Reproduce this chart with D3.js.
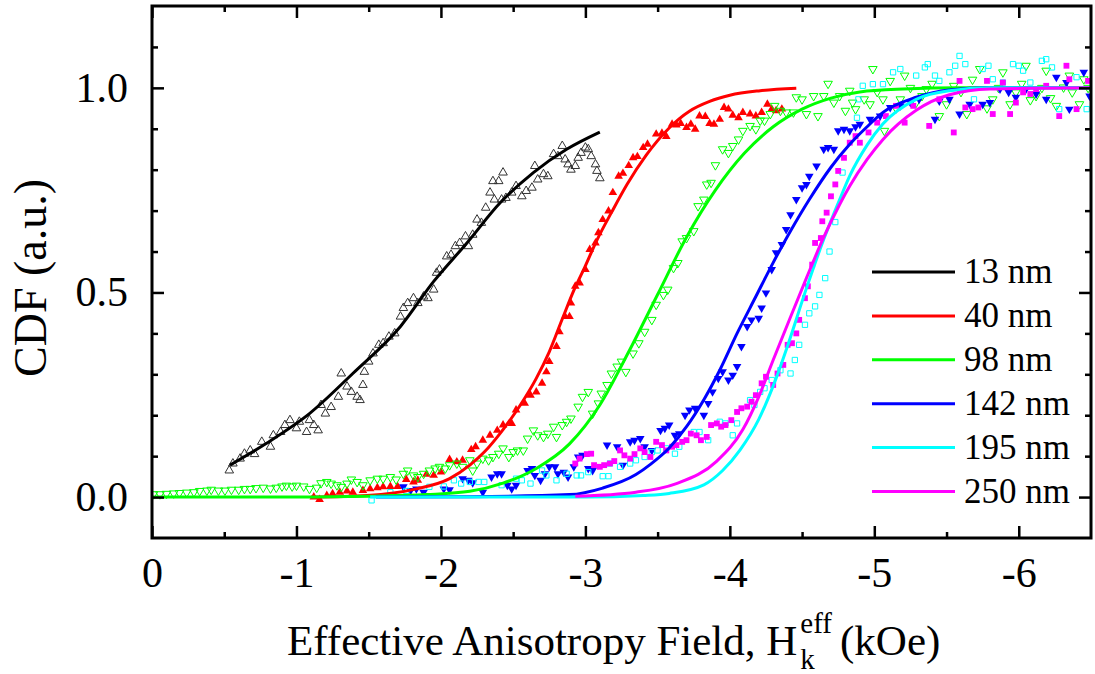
<!DOCTYPE html>
<html><head><meta charset="utf-8">
<script src="https://cdn.jsdelivr.net/npm/d3@7"></script>
<style>
body{margin:0;background:#fff;}
svg{display:block;}
text{font-family:"Liberation Serif","Times New Roman",serif;fill:#000;}
</style>
</head><body>
<svg id="c" width="1095" height="674"></svg>
<script>
// ---------- axis ticks ----------
const xTicks=[0,-1,-2,-3,-4,-5,-6];
const xMinorTicks=[-0.5,-1.5,-2.5,-3.5,-4.5,-5.5];
const yTicks=[0,0.5,1.0];
const yMinorTicks=[0.1,0.2,0.3,0.4,0.6,0.7,0.8,0.9,1.1];

// ---------- series ----------
const seriesNames=["13 nm","40 nm","98 nm","142 nm","195 nm","250 nm"];
const seriesColors=["#000000","#ff0000","#00ff00","#0000ff","#00ffff","#ff00ff"];

// measured CDF points [H (kOe), CDF]
const data13=[[-0.535,0.065],[-0.56,0.082],[-0.61,0.094],[-0.64,0.106],[-0.68,0.114],[-0.71,0.105],[-0.76,0.135],[-0.82,0.123],[-0.84,0.151],[-0.89,0.159],[-0.92,0.176],[-0.955,0.188],[-1.0,0.168],[-1.02,0.184],[-1.07,0.159],[-1.09,0.188],[-1.12,0.176],[-1.15,0.163],[-1.17,0.225],[-1.20,0.204],[-1.24,0.22],[-1.29,0.245],[-1.31,0.302],[-1.35,0.27],[-1.38,0.257],[-1.42,0.245],[-1.44,0.237],[-1.46,0.274],[-1.47,0.306],[-1.50,0.331],[-1.53,0.351],[-1.57,0.372],[-1.60,0.376],[-1.64,0.392],[-1.68,0.40],[-1.72,0.441],[-1.74,0.462],[-1.77,0.474],[-1.81,0.486],[-1.84,0.474],[-1.88,0.49],[-1.91,0.486],[-1.95,0.507],[-1.97,0.548],[-1.99,0.556],[-2.04,0.588],[-2.07,0.592],[-2.10,0.613],[-2.13,0.621],[-2.17,0.637],[-2.19,0.613],[-2.22,0.641],[-2.25,0.678],[-2.28,0.67],[-2.31,0.707],[-2.34,0.744],[-2.36,0.772],[-2.37,0.727],[-2.40,0.772],[-2.42,0.727],[-2.43,0.793],[-2.45,0.731],[-2.49,0.744],[-2.52,0.76],[-2.56,0.735],[-2.59,0.748],[-2.63,0.756],[-2.65,0.809],[-2.67,0.776],[-2.71,0.789],[-2.74,0.784],[-2.78,0.838],[-2.81,0.833],[-2.84,0.858],[-2.86,0.825],[-2.88,0.813],[-2.90,0.80],[-2.93,0.809],[-2.95,0.829],[-2.97,0.841],[-3.00,0.854],[-3.02,0.85],[-3.04,0.833],[-3.07,0.813],[-3.08,0.797],[-3.10,0.779]];

const data40=[[-1.12,0.0],[-1.16,-0.006],[-1.21,0.004],[-1.25,0.008],[-1.30,0.012],[-1.35,0.015],[-1.39,0.012],[-1.46,0.016],[-1.51,0.02],[-1.56,0.023],[-1.60,0.025],[-1.65,0.026],[-1.70,0.026],[-1.76,0.043],[-1.81,0.037],[-1.84,0.041],[-1.90,0.056],[-1.95,0.053],[-2.00,0.061],[-2.06,0.092],[-2.11,0.086],[-2.15,0.09],[-2.21,0.116],[-2.24,0.123],[-2.29,0.139],[-2.34,0.151],[-2.39,0.163],[-2.43,0.176],[-2.49,0.18],[-2.52,0.213],[-2.58,0.229],[-2.62,0.249],[-2.66,0.257],[-2.70,0.278],[-2.73,0.306],[-2.75,0.331],[-2.80,0.368],[-2.82,0.404],[-2.86,0.441],[-2.89,0.441],[-2.90,0.474],[-2.93,0.515],[-2.96,0.523],[-3.00,0.556],[-3.03,0.605],[-3.07,0.621],[-3.09,0.646],[-3.12,0.678],[-3.16,0.699],[-3.19,0.744],[-3.23,0.784],[-3.26,0.791],[-3.30,0.81],[-3.33,0.829],[-3.36,0.832],[-3.40,0.854],[-3.43,0.862],[-3.49,0.887],[-3.53,0.889],[-3.56,0.881],[-3.60,0.911],[-3.63,0.909],[-3.66,0.913],[-3.70,0.903],[-3.73,0.911],[-3.76,0.899],[-3.79,0.931],[-3.83,0.93],[-3.86,0.913],[-3.89,0.911],[-3.93,0.923],[-3.96,0.952],[-3.99,0.948],[-4.02,0.933],[-4.06,0.927],[-4.09,0.94],[-4.14,0.936],[-4.18,0.931],[-4.22,0.94],[-4.26,0.96],[-4.29,0.948],[-4.32,0.944],[-4.36,0.948]];

const data98=[[-0.01,0.007],[-0.055,0.007],[-0.10,0.008],[-0.15,0.009],[-0.19,0.01],[-0.24,0.011],[-0.29,0.012],[-0.33,0.015],[-0.38,0.016],[-0.41,0.018],[-0.46,0.016],[-0.505,0.016],[-0.55,0.018],[-0.60,0.018],[-0.64,0.02],[-0.68,0.02],[-0.72,0.022],[-0.77,0.023],[-0.82,0.021],[-0.86,0.023],[-0.90,0.026],[-0.93,0.028],[-0.97,0.026],[-1.00,0.028],[-1.05,0.026],[-1.09,0.02],[-1.14,0.023],[-1.17,0.034],[-1.21,0.037],[-1.24,0.033],[-1.28,0.029],[-1.31,0.025],[-1.35,0.033],[-1.38,0.043],[-1.42,0.037],[-1.46,0.029],[-1.51,0.041],[-1.56,0.045],[-1.60,0.045],[-1.65,0.049],[-1.69,0.043],[-1.74,0.057],[-1.77,0.065],[-1.81,0.053],[-1.84,0.049],[-1.88,0.057],[-1.92,0.065],[-1.96,0.07],[-1.99,0.074],[-2.03,0.07],[-2.06,0.078],[-2.11,0.082],[-2.15,0.074],[-2.20,0.09],[-2.22,0.065],[-2.25,0.082],[-2.29,0.094],[-2.33,0.09],[-2.36,0.098],[-2.40,0.106],[-2.43,0.119],[-2.47,0.098],[-2.50,0.11],[-2.53,0.114],[-2.57,0.114],[-2.60,0.143],[-2.64,0.163],[-2.67,0.151],[-2.71,0.147],[-2.74,0.155],[-2.78,0.172],[-2.80,0.147],[-2.84,0.176],[-2.87,0.184],[-2.90,0.192],[-2.95,0.221],[-2.98,0.245],[-3.02,0.257],[-3.05,0.204],[-3.09,0.229],[-3.11,0.253],[-3.15,0.274],[-3.18,0.302],[-3.22,0.319],[-3.25,0.331],[-3.28,0.306],[-3.33,0.351],[-3.37,0.376],[-3.41,0.404],[-3.46,0.433],[-3.49,0.47],[-3.54,0.494],[-3.57,0.507],[-3.61,0.56],[-3.64,0.572],[-3.67,0.625],[-3.70,0.633],[-3.75,0.65],[-3.78,0.711],[-3.82,0.727],[-3.84,0.764],[-3.87,0.768],[-3.90,0.811],[-3.95,0.85],[-3.99,0.841],[-4.02,0.858],[-4.06,0.874],[-4.09,0.895],[-4.14,0.907],[-4.18,0.899],[-4.21,0.92],[-4.24,0.92],[-4.28,0.936],[-4.31,0.956],[-4.35,0.944],[-4.39,0.94],[-4.44,0.94],[-4.46,0.977],[-4.50,0.972],[-4.53,0.936],[-4.58,0.98],[-4.61,0.931],[-4.65,0.98],[-4.68,1.01],[-4.72,0.964],[-4.76,0.98],[-4.80,0.944],[-4.83,0.993],[-4.85,0.964],[-4.87,0.948],[-4.93,0.972],[-4.97,0.96],[-4.99,1.046],[-5.02,0.99],[-5.06,0.972],[-5.07,0.895],[-5.11,1.017],[-5.15,0.95],[-5.18,0.972],[-5.21,1.03],[-5.25,1.0],[-5.29,0.964],[-5.33,0.98],[-5.36,0.997],[-5.40,1.01],[-5.45,0.931],[-5.50,0.96],[-5.55,1.005],[-5.60,0.99],[-5.64,0.936],[-5.68,1.02],[-5.73,1.046],[-5.78,0.95],[-5.82,0.972],[-5.86,1.0],[-5.89,1.038],[-5.94,0.96],[-5.98,0.989],[-6.02,1.01],[-6.05,1.054],[-6.08,0.97],[-6.12,0.98],[-6.16,1.0],[-6.19,1.042],[-6.22,0.975],[-6.26,0.956],[-6.31,1.001],[-6.35,1.03],[-6.37,0.989],[-6.42,0.96],[-6.45,1.021],[-6.48,1.0]];

const data142=[[-1.74,0.025],[-1.79,0.016],[-1.83,0.02],[-1.88,0.012],[-2.02,0.02],[-2.06,0.018],[-2.15,0.045],[-2.19,0.041],[-2.22,0.035],[-2.29,0.012],[-2.35,0.049],[-2.39,0.057],[-2.42,0.057],[-2.46,0.029],[-2.49,0.02],[-2.52,0.029],[-2.60,0.065],[-2.63,0.07],[-2.65,0.053],[-2.69,0.041],[-2.72,0.057],[-2.75,0.074],[-2.79,0.074],[-2.81,0.057],[-2.85,0.061],[-2.88,0.049],[-2.92,0.074],[-2.95,0.098],[-2.98,0.102],[-3.02,0.07],[-3.05,0.065],[-3.15,0.127],[-3.22,0.123],[-3.26,0.078],[-3.31,0.135],[-3.34,0.139],[-3.38,0.143],[-3.41,0.123],[-3.46,0.114],[-3.52,0.163],[-3.55,0.168],[-3.58,0.176],[-3.62,0.151],[-3.65,0.155],[-3.69,0.20],[-3.72,0.213],[-3.76,0.217],[-3.82,0.20],[-3.85,0.229],[-3.88,0.257],[-3.92,0.29],[-3.95,0.306],[-3.99,0.286],[-4.02,0.298],[-4.05,0.319],[-4.08,0.368],[-4.12,0.417],[-4.15,0.433],[-4.20,0.437],[-4.22,0.462],[-4.25,0.499],[-4.29,0.556],[-4.32,0.597],[-4.36,0.617],[-4.39,0.654],[-4.42,0.69],[-4.46,0.727],[-4.50,0.756],[-4.53,0.764],[-4.55,0.784],[-4.60,0.809],[-4.65,0.85],[-4.68,0.854],[-4.72,0.85],[-4.75,0.895],[-4.79,0.899],[-4.83,0.895],[-4.87,0.905],[-4.90,0.911],[-4.97,0.923],[-5.04,0.931],[-5.11,0.952],[-5.18,0.956],[-5.25,0.964],[-5.31,0.972],[-5.42,0.923],[-5.45,0.968],[-5.52,0.972],[-5.59,0.936],[-5.66,0.96],[-5.75,0.96],[-5.80,0.964],[-5.87,0.997],[-5.93,0.989],[-5.98,0.977],[-6.05,0.997],[-6.12,0.985],[-6.19,0.972],[-6.26,1.026],[-6.33,1.013],[-6.35,0.948],[-6.45,1.038],[-6.49,0.98]];

const data195=[[-1.52,-0.008],[-1.65,0.012],[-1.76,0.015],[-1.92,0.025],[-2.02,0.026],[-2.09,0.041],[-2.14,0.033],[-2.20,0.037],[-2.26,0.037],[-2.30,0.037],[-2.42,0.029],[-2.52,0.045],[-2.56,0.041],[-2.62,0.033],[-2.70,0.065],[-2.73,0.053],[-2.80,0.041],[-2.87,0.057],[-2.94,0.053],[-2.97,0.053],[-3.02,0.061],[-3.12,0.051],[-3.16,0.051],[-3.17,0.082],[-3.24,0.074],[-3.31,0.082],[-3.35,0.09],[-3.41,0.098],[-3.46,0.11],[-3.50,0.114],[-3.56,0.119],[-3.62,0.106],[-3.65,0.123],[-3.75,0.159],[-3.79,0.159],[-3.85,0.139],[-3.93,0.184],[-3.97,0.18],[-4.02,0.151],[-4.05,0.18],[-4.14,0.237],[-4.17,0.225],[-4.21,0.257],[-4.24,0.266],[-4.29,0.286],[-4.35,0.31],[-4.42,0.302],[-4.45,0.335],[-4.48,0.372],[-4.52,0.421],[-4.55,0.449],[-4.59,0.466],[-4.62,0.494],[-4.66,0.535],[-4.69,0.60],[-4.73,0.672],[-4.78,0.793],[-4.88,0.927],[-4.89,0.972],[-4.92,1.005],[-4.99,1.009],[-5.06,1.009],[-5.13,1.038],[-5.18,1.046],[-5.29,1.03],[-5.35,1.05],[-5.37,1.058],[-5.42,1.03],[-5.45,1.017],[-5.52,1.038],[-5.56,1.054],[-5.59,1.078],[-5.63,1.058],[-5.69,0.972],[-5.75,1.046],[-5.79,1.054],[-5.82,1.021],[-5.89,1.013],[-5.96,1.058],[-6.0,1.054],[-6.03,1.042],[-6.08,1.013],[-6.16,1.066],[-6.19,1.07],[-6.23,1.05],[-6.28,0.948],[-6.40,1.026],[-6.47,0.948]];

const data250=[[-2.93,0.082],[-2.96,0.094],[-3.01,0.105],[-3.04,0.106],[-3.06,0.078],[-3.10,0.074],[-3.13,0.078],[-3.17,0.082],[-3.20,0.088],[-3.24,0.114],[-3.27,0.102],[-3.31,0.094],[-3.34,0.105],[-3.38,0.119],[-3.41,0.11],[-3.45,0.098],[-3.49,0.135],[-3.53,0.127],[-3.56,0.114],[-3.60,0.123],[-3.63,0.127],[-3.67,0.135],[-3.70,0.139],[-3.73,0.155],[-3.77,0.151],[-3.80,0.139],[-3.84,0.147],[-3.87,0.176],[-3.91,0.18],[-3.94,0.172],[-3.97,0.176],[-4.01,0.188],[-4.05,0.208],[-4.08,0.217],[-4.12,0.221],[-4.15,0.233],[-4.18,0.249],[-4.22,0.278],[-4.25,0.294],[-4.30,0.274],[-4.33,0.302],[-4.37,0.323],[-4.40,0.372],[-4.43,0.376],[-4.46,0.40],[-4.48,0.433],[-4.52,0.486],[-4.54,0.515],[-4.57,0.568],[-4.59,0.621],[-4.63,0.633],[-4.64,0.674],[-4.67,0.695],[-4.70,0.735],[-4.73,0.764],[-4.75,0.797],[-4.79,0.829],[-4.83,0.866],[-4.87,0.882],[-4.90,0.866],[-4.96,0.891],[-5.02,0.915],[-5.08,0.931],[-5.15,0.956],[-5.21,0.915],[-5.27,0.956],[-5.38,0.907],[-5.45,0.972],[-5.55,0.891],[-5.59,1.017],[-5.63,0.952],[-5.68,0.948],[-5.72,0.952],[-5.78,1.017],[-5.82,0.936],[-5.89,1.013],[-5.94,0.936],[-5.98,0.964],[-6.03,0.989],[-6.08,0.985],[-6.12,0.997],[-6.19,1.005],[-6.28,0.931],[-6.33,1.054],[-6.35,1.021],[-6.40,0.948],[-6.48,1.017]];

// fitted CDF curves [H (kOe), CDF]
const fit13=[[-0.54,0.078],[-0.79,0.131],[-1.09,0.204],[-1.39,0.302],[-1.72,0.417],[-1.95,0.527],[-2.18,0.621],[-2.41,0.719],[-2.64,0.793],[-2.87,0.85],[-3.10,0.892]];
const fit40=[[-1.1,0.0],[-1.49,0.004],[-1.83,0.02],[-2.06,0.045],[-2.2,0.078],[-2.3,0.11],[-2.43,0.165],[-2.55,0.225],[-2.66,0.29],[-2.75,0.355],[-2.84,0.435],[-2.92,0.505],[-3.0,0.565],[-3.08,0.628],[-3.18,0.695],[-3.29,0.765],[-3.42,0.835],[-3.58,0.902],[-3.72,0.943],[-3.86,0.967],[-4.0,0.982],[-4.21,0.993],[-4.46,0.999]];
const fit98=[[0,0.0],[-1.0,0.0],[-1.5,0.002],[-1.9,0.006],[-2.2,0.014],[-2.43,0.034],[-2.66,0.07],[-2.89,0.13],[-3.1,0.225],[-3.3,0.355],[-3.5,0.495],[-3.7,0.635],[-3.9,0.75],[-4.1,0.84],[-4.3,0.905],[-4.5,0.948],[-4.7,0.975],[-4.9,0.99],[-5.2,0.997],[-5.6,1.0],[-6.5,1.0]];
const fit142=[[-1.55,0.0],[-2.2,0.001],[-2.89,0.006],[-3.12,0.022],[-3.35,0.055],[-3.45,0.08],[-3.58,0.12],[-3.7,0.172],[-3.82,0.238],[-3.93,0.31],[-4.05,0.4],[-4.18,0.49],[-4.3,0.573],[-4.42,0.65],[-4.55,0.727],[-4.7,0.806],[-4.83,0.862],[-4.95,0.905],[-5.06,0.94],[-5.29,0.977],[-5.52,0.995],[-5.8,1.0],[-6.5,1.0]];
const fit195=[[-1.51,0.0],[-3.0,0.0],[-3.4,0.004],[-3.58,0.009],[-3.82,0.03],[-3.95,0.065],[-4.07,0.115],[-4.2,0.19],[-4.32,0.29],[-4.4,0.37],[-4.53,0.51],[-4.65,0.63],[-4.76,0.727],[-4.83,0.785],[-4.95,0.86],[-5.06,0.912],[-5.29,0.972],[-5.52,0.993],[-5.8,1.0],[-6.5,1.0]];
const fit250=[[-2.93,0.002],[-3.35,0.012],[-3.63,0.033],[-3.91,0.088],[-4.09,0.165],[-4.2,0.245],[-4.3,0.335],[-4.42,0.44],[-4.53,0.535],[-4.65,0.635],[-4.76,0.715],[-4.83,0.76],[-4.95,0.825],[-5.06,0.874],[-5.29,0.945],[-5.52,0.983],[-5.8,0.997],[-6.5,1.0]];

const dataSets=[data13,data40,data98,data142,data195,data250];
const fitSets=[fit13,fit40,fit98,fit142,fit195,fit250];
const markerShapes=["triUpOpen","triUpFill","triDownOpen","triDownFill","sqOpen","sqFill"];

// ---------- drawing ----------
const svg=d3.select("#c");
const L=152,R=1091,T=6,B=538;
const x=d3.scaleLinear().domain([0,-6.5]).range([L,R]);
const y=d3.scaleLinear().domain([-0.1,1.2]).range([B,T]);

svg.append("defs").append("clipPath").attr("id","clip")
  .append("rect").attr("x",L).attr("y",T).attr("width",R-L).attr("height",B-T);

const plot=svg.append("g").attr("clip-path","url(#clip)");

const triUp=d3.symbol(d3.symbolTriangle,32)();
const sq=d3.symbol(d3.symbolSquare,28)();
const sqF=d3.symbol(d3.symbolSquare,34)();

dataSets.forEach((ds,i)=>{
  const shape=markerShapes[i], col=seriesColors[i];
  const g=plot.append("g");
  g.selectAll("path").data(ds).enter().append("path")
    .attr("d", shape.startsWith("sq") ? (shape==="sqFill"?sqF:sq) : triUp)
    .attr("transform",d=>`translate(${x(d[0])},${y(d[1])})`+(shape.startsWith("triDown")?" rotate(180)":""))
    .attr("fill", shape.endsWith("Fill")?col:"none")
    .attr("stroke", shape.endsWith("Fill")?"none":(i===0?"#333":col))
    .attr("stroke-width",1);
});

const line=d3.line().x(d=>x(d[0])).y(d=>y(d[1])).curve(d3.curveMonotoneX);
fitSets.forEach((fs,i)=>{
  plot.append("path").datum(fs).attr("d",line)
    .attr("fill","none").attr("stroke",seriesColors[i]).attr("stroke-width",3);
});

// axes
const fmtX=d=>d===0?"0":"-"+Math.abs(d);
function styleAxis(g,w){ g.select(".domain").remove(); g.selectAll(".tick line").attr("stroke","#000").attr("stroke-width",w); g.selectAll("text").attr("font-size",42).attr("font-family","Liberation Serif").attr("fill","#000"); }
const gxb=svg.append("g").attr("transform",`translate(0,${B})`)
  .call(d3.axisBottom(x).tickValues(xTicks).tickSize(-12).tickPadding(19).tickFormat(fmtX));
styleAxis(gxb,2.5);
const gxbm=svg.append("g").attr("transform",`translate(0,${B})`)
  .call(d3.axisBottom(x).tickValues(xMinorTicks).tickSize(-6).tickFormat(""));
styleAxis(gxbm,2.5);
const gxt=svg.append("g").attr("transform",`translate(0,${T})`)
  .call(d3.axisTop(x).tickValues(xTicks).tickSize(-12).tickFormat(""));
styleAxis(gxt,2.5);
const gxtm=svg.append("g").attr("transform",`translate(0,${T})`)
  .call(d3.axisTop(x).tickValues(xMinorTicks).tickSize(-6).tickFormat(""));
styleAxis(gxtm,2.5);
const gyl=svg.append("g").attr("transform",`translate(${L},0)`)
  .call(d3.axisLeft(y).tickValues(yTicks).tickSize(-12).tickPadding(24).tickFormat(d3.format(".1f")));
styleAxis(gyl,2.5);
const gylm=svg.append("g").attr("transform",`translate(${L},0)`)
  .call(d3.axisLeft(y).tickValues(yMinorTicks).tickSize(-6).tickFormat(""));
styleAxis(gylm,2.5);
const gyr=svg.append("g").attr("transform",`translate(${R},0)`)
  .call(d3.axisRight(y).tickValues(yTicks).tickSize(-12).tickFormat(""));
styleAxis(gyr,2.5);
const gyrm=svg.append("g").attr("transform",`translate(${R},0)`)
  .call(d3.axisRight(y).tickValues(yMinorTicks).tickSize(-6).tickFormat(""));
styleAxis(gyrm,2.5);

svg.append("rect").attr("x",L).attr("y",T).attr("width",R-L).attr("height",B-T)
  .attr("fill","none").attr("stroke","#000").attr("stroke-width",3);

// legend
const leg=svg.append("g");
seriesNames.forEach((n,i)=>{
  const yy=272+i*43.9;
  leg.append("line").attr("x1",872).attr("x2",955).attr("y1",yy).attr("y2",yy)
    .attr("stroke",seriesColors[i]).attr("stroke-width",3);
  leg.append("text").attr("x",964).attr("y",yy+11).attr("font-size",35).text(n);
});

// axis titles
svg.append("text").attr("transform","translate(46,278) rotate(-90)")
  .attr("text-anchor","middle").attr("font-size",46).text("CDF (a.u.)");

const tx=287, ty=655;
const t1=svg.append("text").attr("x",tx).attr("y",ty).attr("font-size",43).text("Effective Anisotropy Field, H");
const w1=t1.node().getComputedTextLength();
const sup=svg.append("text").attr("x",tx+w1+3).attr("y",ty-22).attr("font-size",29).text("eff");
const sub=svg.append("text").attr("x",tx+w1+3).attr("y",ty+14).attr("font-size",29).text("k");
const ws=Math.max(sup.node().getComputedTextLength(),sub.node().getComputedTextLength());
svg.append("text").attr("x",tx+w1+3+ws+8).attr("y",ty).attr("font-size",43).text("(kOe)");
</script>
</body></html>
